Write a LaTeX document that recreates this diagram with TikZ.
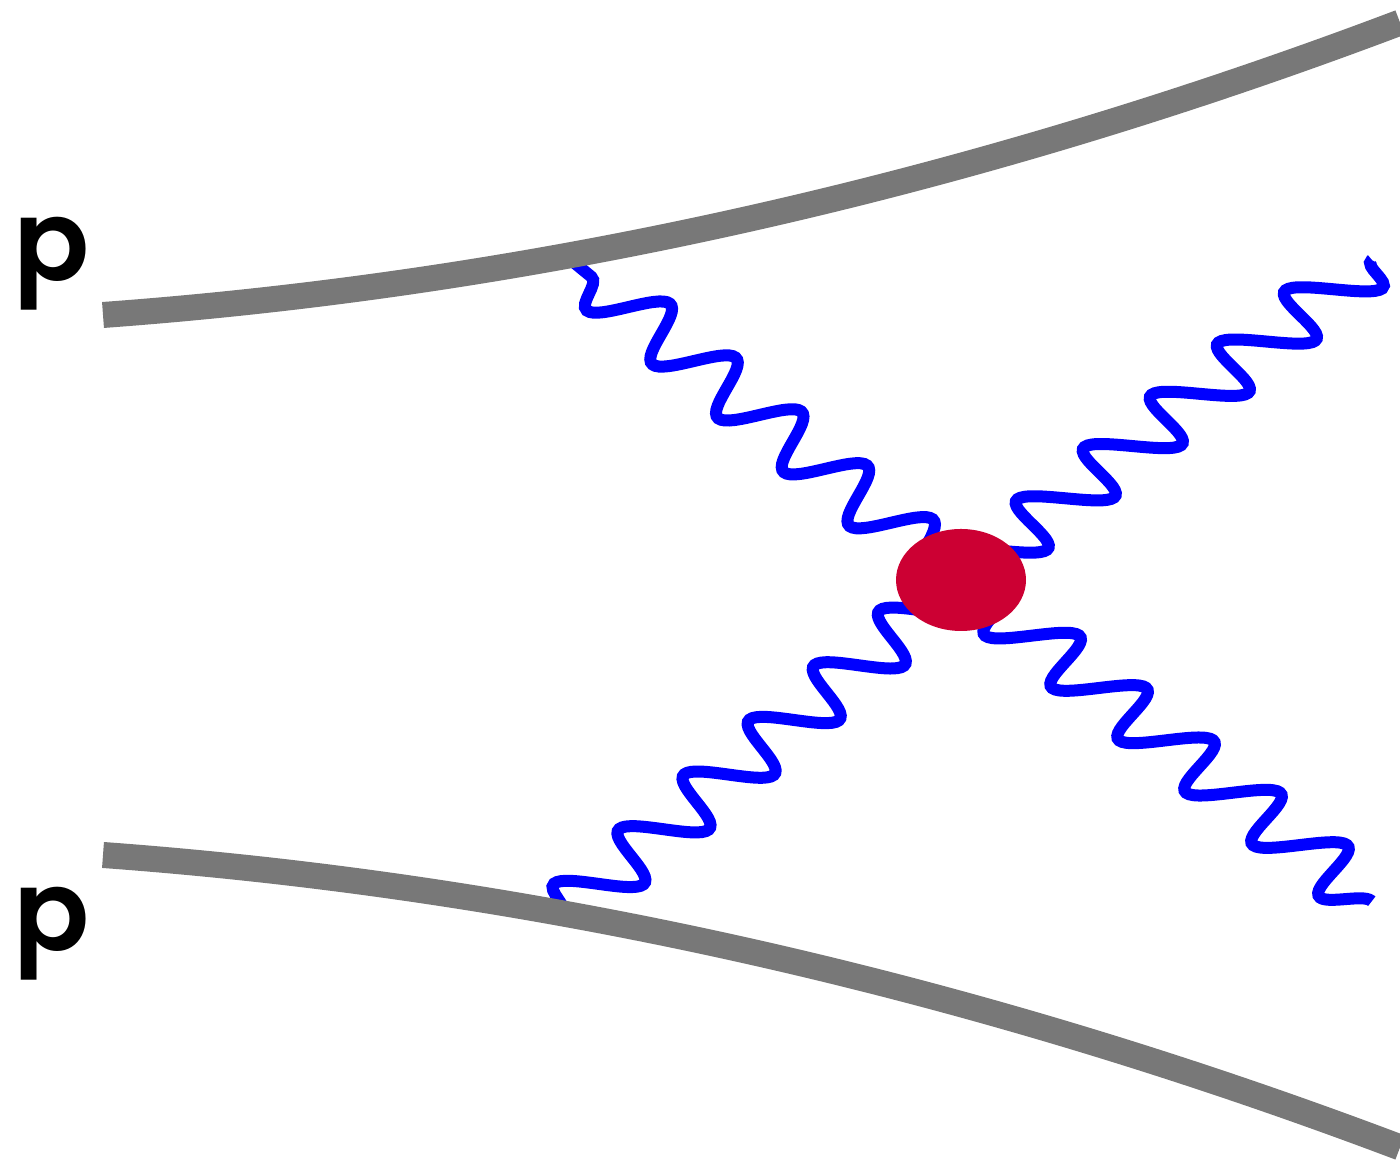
\documentclass[tikz,border=0pt]{standalone}
\usepackage{fontspec}
\setmainfont{Poppins}
\newfontfamily\labelfont{Poppins SemiBold}
\usetikzlibrary{decorations.pathmorphing, shapes.geometric}

\definecolor{protongray}{RGB}{120,120,120}
\definecolor{blobred}{RGB}{204,0,51}

\begin{document}
\begin{tikzpicture}[
    proton/.style={draw=protongray, line width=0.26cm},
    photon/.style={draw=blue, line width=0.12cm, decorate,
        decoration={snake, segment length=0.85cm, amplitude=0.29cm, transform={xslant=#1}}},
    blob/.style={ellipse, fill=blobred, minimum width=1.30cm, minimum height=1.02cm, inner sep=0pt},
    plabel/.style={anchor=base, font=\labelfont\fontsize{32}{32}\selectfont},
]
\clip (0,0) rectangle (14,11.61);

% vertex and photon ends
\coordinate (vtx) at (9.61,5.81);
\coordinate (qa) at (5.586,9.111);
\coordinate (qb) at (13.718,9.012);
\coordinate (qc) at (5.622,2.463);
\coordinate (qd) at (13.718,2.598);

% Photons out of the vertex
\draw[photon=0.3]   (vtx) -- (qa);
\draw[photon=-0.6]  (vtx) -- (qb);
\draw[photon=-0.44] (vtx) -- (qc);
\draw[photon=0.54]  (vtx) -- (qd);

% Proton lines
\draw[proton] (1.03,8.46) coordinate (pa) .. controls (5.353,8.776) and (9.677,9.75) .. (14.0,11.384) coordinate (pb);
\draw[proton] (1.03,3.06) coordinate (pc) .. controls (5.353,2.744) and (9.677,1.77) .. (14.0,0.136) coordinate (pd);

\node[blob] (core) at (vtx) {};

\node[plabel] (ptop) at (0.52,8.80) {p};
\node[plabel] (pbot) at (0.52,2.10) {p};
\end{tikzpicture}
\end{document}
